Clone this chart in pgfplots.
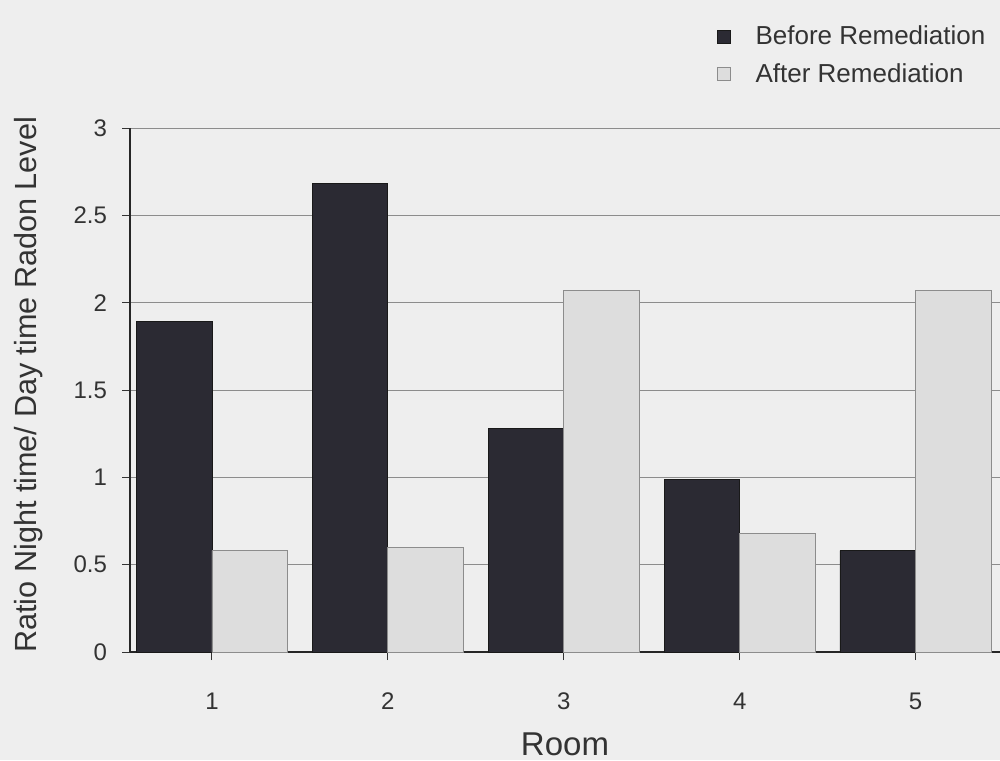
\documentclass[border=0pt]{standalone}
\usepackage{fontspec}
\setmainfont{Liberation Sans}
\usepackage{pgfplots}
\pgfplotsset{compat=1.18}
\definecolor{paper}{HTML}{EEEEEE}
\definecolor{darkbar}{HTML}{2B2A33}
\definecolor{lightbar}{HTML}{DDDDDD}
\definecolor{inkgray}{HTML}{333333}

\begin{document}
\begin{tikzpicture}
  \path[fill=paper, use as bounding box] (0,0) rectangle (500pt,380pt);
  \begin{axis}[
      at={(65pt,54pt)}, anchor=south west,
      scale only axis,
      width=435pt, height=262pt,
      xmin=0.534, xmax=5.48,
      ymin=0, ymax=3,
      xtick={1,2,3,4,5},
      ytick={0,0.5,1,1.5,2,2.5,3},
      axis x line*=bottom,
      axis y line*=left,
      axis line style={line width=0.8pt, color=black!85},
      tick align=outside,
      major tick length=4pt,
      tick style={color=black!80, line width=0.5pt},
      ymajorgrids,
      grid style={color=black!45, line width=0.5pt},
      ybar,
      bar width=0.43,
      /pgf/number format/assume math mode=true,
      ticklabel style={font=\fontsize{12}{14}\selectfont, color=inkgray},
      yticklabel style={xshift=-4pt},
      xticklabel style={yshift=-13pt},
      xlabel={Room},
      ylabel={Ratio Night time/ Day time Radon Level},
      label style={color=inkgray},
      x label style={at={(axis description cs:0.5,-0.177)}, anchor=center,
        font=\fontsize{16.5}{19}\selectfont},
      y label style={at={(axis description cs:-0.117,0.51)}, anchor=center,
        font=\fontsize{15.3}{18}\selectfont},
      legend style={
        at={(axis description cs:0.674,1.2)}, anchor=north west,
        draw=none, fill=none, inner sep=0pt,
        font=\fontsize{13}{15}\selectfont, text=inkgray,
        row sep=6pt,
        nodes={inner sep=1pt, anchor=west}
      },
      legend cell align=left,
      legend image code/.code={
        \draw[#1] (0pt,-3.25pt) rectangle (6.5pt,3.25pt);
        \path (18pt,0pt);
      },
    ]
    \addplot[fill=darkbar, draw=black!90, bar shift=-0.215] coordinates {
      (1,1.89) (2,2.68) (3,1.28) (4,0.99) (5,0.58)
    };
    \addplot[fill=lightbar, draw=black!45, bar shift=0.215] coordinates {
      (1,0.58) (2,0.60) (3,2.07) (4,0.68) (5,2.07)
    };
    \legend{Before Remediation, After Remediation}
  \end{axis}
\end{tikzpicture}
\end{document}
